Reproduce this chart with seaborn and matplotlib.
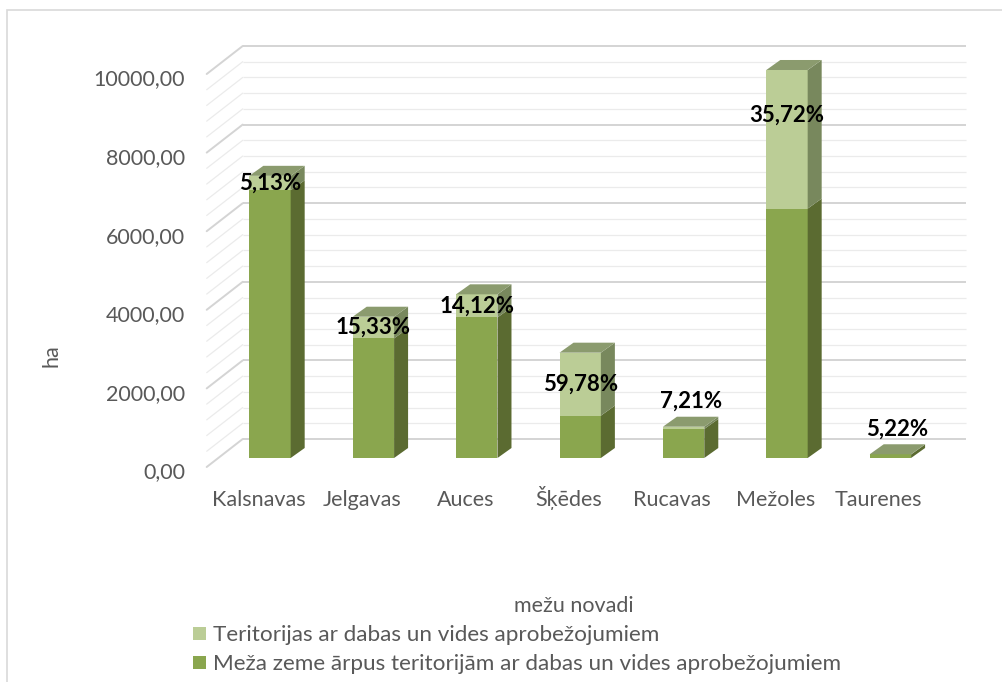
import numpy as np
import pandas as pd
import matplotlib.pyplot as plt
import matplotlib.transforms as mtrans
from matplotlib.patches import Polygon, Rectangle
import seaborn as sns

# dati nolasīti no attēla
novadi = ["Kalsnavas", "Jelgavas", "Auces", "Šķēdes", "Rucavas", "Mežoles", "Taurenes"]
kopa_ha = [7180, 3595, 4165, 2680, 796, 9873, 95]
procenti = [5.13, 15.33, 14.12, 59.78, 7.21, 35.72, 5.22]
y_ticks = [0, 2000, 4000, 6000, 8000, 10000]

ierobezots = [k * p / 100 for k, p in zip(kopa_ha, procenti)]
arpus = [k - i for k, i in zip(kopa_ha, ierobezots)]

df = pd.DataFrame({"novads": novadi, "kopa": kopa_ha, "ierob": ierobezots, "arpus": arpus})

leg_light = "Teritorijas ar dabas un vides aprobežojumiem"
leg_dark = "Meža zeme ārpus teritorijām ar dabas un vides aprobežojumiem"

# krāsas
light_front, light_side, top_col = "#bbcd96", "#78885d", "#8b9b6e"
dark_front, dark_side = "#8aa64e", "#5b6b31"
txt_gray = "#595959"

sns.set_style("white")
plt.rcParams["font.family"] = ["Lato", "DejaVu Sans"]

W, H = 1003, 682
fig = plt.figure(figsize=(W / 100, H / 100), dpi=100)
ax = fig.add_axes([218.3 / W, 1 - 458 / H, 723.8 / W, 393 / H])

# priekšējās skaldnes
sns.barplot(data=df, x="novads", y="kopa", order=novadi, color=light_front,
            saturation=1, width=0.4, errorbar=None, ax=ax, zorder=3, linewidth=0)
sns.barplot(data=df, x="novads", y="arpus", order=novadi, color=dark_front,
            saturation=1, width=0.4, errorbar=None, ax=ax, zorder=3, linewidth=0)

ax.set_xlim(-0.5, len(novadi) - 0.5)
ax.set_ylim(0, 10000)

# pikseļi -> datu vienības
px_x = 1 / 103.4
px_y = 10000 / 393
bdx, bdy = 14 * px_x, 10 * px_y          # stabiņa dziļums
wdx, wdy = 24.4 * px_x, 19 * px_y        # aizmugurējā siena
fdx, fdy = -11.6 * px_x, -9 * px_y       # priekšējā plakne

# aizmugurējās sienas režģis un sānu siena
x0, x1 = -0.5, len(novadi) - 0.5
for v in range(0, 10001, 400):
    major = v % 2000 == 0
    col = "#d4d4d4" if major else "#ebebeb"
    lw = 1.4 if major else 0.9
    ax.plot([x0 + wdx, x1 + wdx], [v + wdy, v + wdy], color=col, lw=lw,
            zorder=1, clip_on=False, solid_capstyle="butt")
    ax.plot([x0 + fdx, x0 + wdx], [v + fdy, v + wdy], color=col, lw=lw,
            zorder=1, clip_on=False)

# 3D sāni un virsas
hw = 0.2
for i, (k, d) in enumerate(zip(kopa_ha, arpus)):
    xr = i + hw
    ax.add_patch(Polygon([(xr, 0), (xr + bdx, bdy), (xr + bdx, d + bdy), (xr, d)],
                         closed=True, fc=dark_side, ec="none", zorder=3, clip_on=False))
    ax.add_patch(Polygon([(xr, d), (xr + bdx, d + bdy), (xr + bdx, k + bdy), (xr, k)],
                         closed=True, fc=light_side, ec="none", zorder=3, clip_on=False))
    ax.add_patch(Polygon([(i - hw, k), (xr, k), (xr + bdx, k + bdy), (i - hw + bdx, k + bdy)],
                         closed=True, fc=top_col, ec="none", zorder=3, clip_on=False))

# datu etiķetes
label_nudge = {"Mežoles": 24}
for i, (n, k, d, li, p) in enumerate(zip(novadi, kopa_ha, arpus, ierobezots, procenti)):
    lab = f"{p:.2f}%".replace(".", ",")
    if li > 300:
        x, y = i, d + li / 2 + label_nudge.get(n, 0) * px_y
    else:
        x, y = i + bdx / 2, k + 650
    ax.text(x, y, lab, ha="center", va="center", fontsize=16, fontweight="bold",
            color="black", zorder=5, clip_on=False)

# asis
ax.set_yticks(y_ticks)
ax.set_yticklabels([f"{v:.2f}".replace(".", ",") for v in y_ticks])
ax.set_xticks(range(len(novadi)))
ax.set_xticklabels(novadi)
ax.tick_params(axis="y", length=0, pad=23.8, labelsize=15.5, labelcolor=txt_gray)
ax.tick_params(axis="x", length=0, pad=34.5, labelsize=15.5, labelcolor=txt_gray)
shift_y = mtrans.ScaledTranslation(0, -0.125, fig.dpi_scale_trans)
shift_x = mtrans.ScaledTranslation(-0.116, 0, fig.dpi_scale_trans)
for t in ax.get_yticklabels():
    t.set_transform(t.get_transform() + shift_y)
for t in ax.get_xticklabels():
    t.set_transform(t.get_transform() + shift_x)
    t.set_va("baseline")
sns.despine(ax=ax, left=True, bottom=True)
ax.grid(False)

ax.set_ylabel("ha", fontsize=15.5, color=txt_gray)
ax.yaxis.set_label_coords(-0.216, 0.26)
ax.set_xlabel("mežu novadi", fontsize=15.5, color=txt_gray)
ax.xaxis.set_label_coords(0.4914, -0.3511)

# leģenda
handles = [Rectangle((0, 0), 1, 1, fc=light_front, ec="none"),
           Rectangle((0, 0), 1, 1, fc=dark_front, ec="none")]
fig.legend(handles, [leg_light, leg_dark], loc="upper left",
           bbox_to_anchor=(182 / W, 1 - 614 / H), frameon=False, fontsize=16.2,
           labelcolor=txt_gray, handlelength=0.55, handleheight=0.55,
           handletextpad=0.35, labelspacing=0.4, borderpad=0)

# ārējais rāmis
fig.patches.append(Rectangle((7 / W, -0.1), 1.2, 1 - 10 / H + 0.1, transform=fig.transFigure,
                             fill=False, ec="#d9d9d9", lw=1.2))

fig.savefig("out.png", dpi=100)
